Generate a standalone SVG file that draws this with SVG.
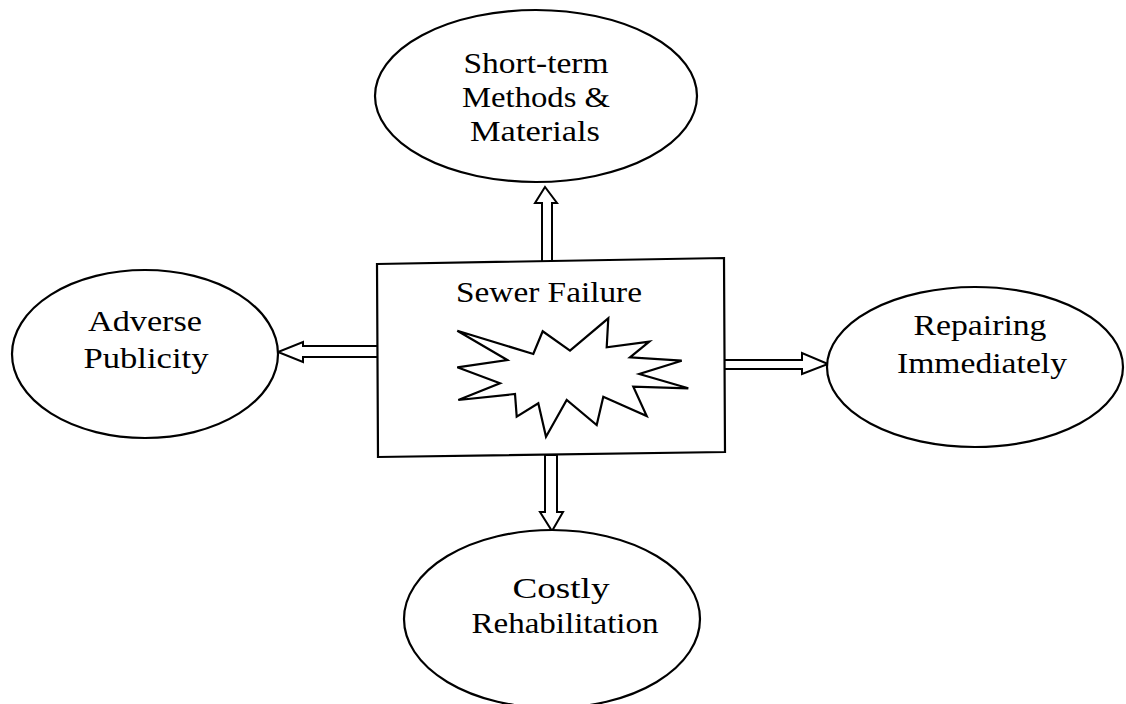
<svg xmlns="http://www.w3.org/2000/svg" width="1126" height="704" viewBox="0 0 1126 704">
<style>
.shape{fill:#fff;stroke:#000;stroke-width:2.2;stroke-linejoin:miter}
.arrow{fill:#fff;stroke:#000;stroke-width:2;stroke-linejoin:miter}
.lbl{font-family:"Liberation Serif","Times New Roman",serif;font-size:30px;fill:#000;text-anchor:middle}
</style>
<rect width="1126" height="704" fill="#fff"/>
<g id="connectors">
<polygon class="arrow" points="542,262 542,203 535,203 545,187 557,203 552,203 552,262"/>
<polygon class="arrow" points="378,346 303,346 303,342 278,352 303,362 303,357 378,357"/>
<polygon class="arrow" points="724,360 802,360 802,353 828,364 802,374 802,369 724,369"/>
<polygon class="arrow" points="545,455 545,512 540,512 552,531 563,512 557,512 557,455"/>
</g>
<g id="node-top">
<ellipse class="shape" cx="536" cy="96" rx="161" ry="86"/>
<text class="lbl" x="536" y="73" textLength="145" lengthAdjust="spacingAndGlyphs">Short-term</text>
<text class="lbl" x="536" y="107" textLength="148" lengthAdjust="spacingAndGlyphs">Methods &amp;</text>
<text class="lbl" x="535" y="141" textLength="130" lengthAdjust="spacingAndGlyphs">Materials</text>
</g>
<g id="node-left">
<ellipse class="shape" cx="145" cy="354" rx="133" ry="84"/>
<text class="lbl" x="145" y="331" textLength="114" lengthAdjust="spacingAndGlyphs">Adverse</text>
<text class="lbl" x="146" y="368" textLength="125" lengthAdjust="spacingAndGlyphs">Publicity</text>
</g>
<g id="node-right">
<ellipse class="shape" cx="975" cy="367" rx="148" ry="80"/>
<text class="lbl" x="980" y="335" textLength="133" lengthAdjust="spacingAndGlyphs">Repairing</text>
<text class="lbl" x="982" y="373" textLength="170" lengthAdjust="spacingAndGlyphs">Immediately</text>
</g>
<g id="node-bottom">
<ellipse class="shape" cx="552" cy="619" rx="148" ry="89"/>
<text class="lbl" x="561" y="598" textLength="97" lengthAdjust="spacingAndGlyphs">Costly</text>
<text class="lbl" x="565" y="633" textLength="187" lengthAdjust="spacingAndGlyphs">Rehabilitation</text>
</g>
<g id="node-center">
<polygon class="shape" points="377,264 724,258 725,452 378,457"/>
<text class="lbl" x="549" y="302" textLength="186" lengthAdjust="spacingAndGlyphs">Sewer Failure</text>
<polygon class="shape" points="457.3,330.7 533.3,354 542.7,331.3 570,350.7 608.3,318.3 606.7,347.3 649.3,341.7 630,357.3 681.7,360.7 639.3,374 688.3,388.3 633.3,386.7 646.7,416 603.3,396.7 596.7,425 566.7,400 546,436.7 538.3,403.3 516.7,416.7 515,394 458.3,400 500,383.3 457.3,367.3 507.3,360"/>
</g>
</svg>
